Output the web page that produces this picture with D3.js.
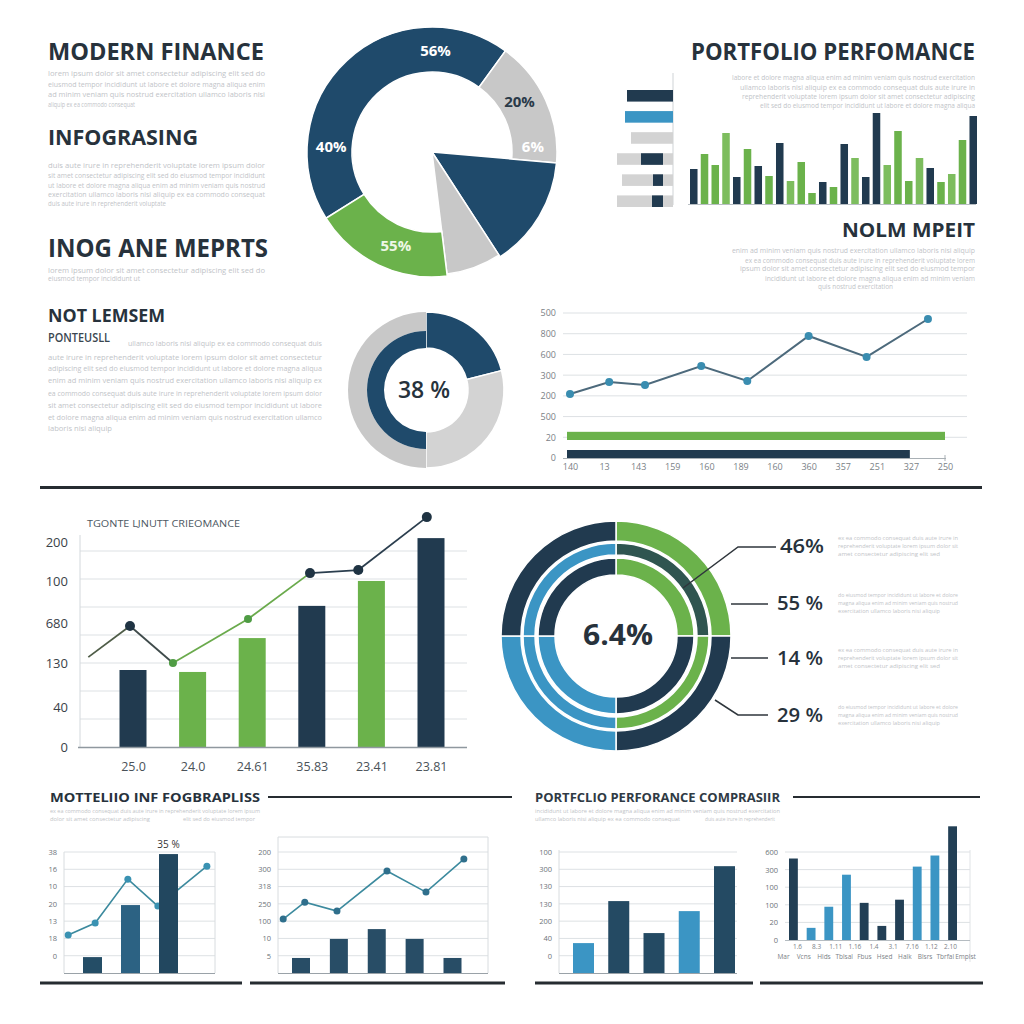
<!DOCTYPE html>
<html><head><meta charset="utf-8">
<script src="https://cdn.jsdelivr.net/npm/d3@7"></script>
<style>
html,body{margin:0;padding:0;background:#fff;}
svg{display:block;}
text{font-family:"Open Sans","Lato",sans-serif;}
</style></head><body>
<svg id="c" width="1024" height="1024"></svg>
<script>
// ---------------- DATA ----------------
const topDonutValues = [158, 59, 52, 26, 65];
const topDonutKinds = ["ring", "ring", "wedge", "wedge", "ring"];
const topDonutSeries = ["navy", "grey", "navy", "grey", "green"];
const topDonutLabels = ["56%", "20%", "6%", "40%", "55%"];
const topDonutLabelAngles = [2, 60, 87, 273, 201];

const hbarBg = [0, 0, 42, 56, 51, 56];
const hbarFgLo = [0, 0, 0, 10, 10, 10];
const hbarFgHi = [46, 48, 0, 32, 20, 21];
const hbarSeries = ["navy", "blue", "none", "navy", "navy", "navy"];

const vbarValues = [35, 50, 39, 71, 27, 55, 38, 28, 61, 23, 42, 11, 22, 17, 60, 46, 27, 91, 39, 73, 23, 46, 36, 22, 30, 64, 88];
const vbarSeries = ["n","g","g","g","n","g","n","g","n","g","g","g","n","g","n","g","n","n","g","g","g","g","n","g","g","g","n"];

const midDonutValues = [21, 29, 50];

const lineYLabels = ["0", "20", "500", "200", "300", "600", "800", "500"];
const lineXLabels = ["140", "13", "143", "159", "160", "189", "160", "360", "357", "251", "327", "250"];
const lineX = [0, 1.15, 2.2, 3.85, 5.2, 7, 8.7, 10.5];
const lineY = [3.09, 3.67, 3.53, 4.44, 3.72, 5.89, 4.88, 6.71];
const midHBars = [100, 90.7];
const midHBarSeries = ["green", "navy"];

const bigCats = ["25.0", "24.0", "24.61", "35.83", "23.41", "23.81"];
const bigBars = [2.75, 2.68, 3.89, 5.04, 5.93, 7.46];
const bigBarSeries = ["n", "g", "g", "n", "g", "n"];
const bigLineX = [-0.75, -0.05, 0.67, 1.93, 2.97, 3.78, 4.93];
const bigLineY = [3.21, 4.32, 3.0, 4.57, 6.21, 6.32, 8.21];
const bigLineSeries = ["none", "n", "g", "g", "n", "n", "n"];
const bigYTickVals = [0, 1.43, 3.0, 4.43, 5.9, 7.3];
const bigYTickLabels = ["0", "40", "130", "680", "100", "200"];

const ringQuarters = [25, 25, 25, 25];
const calloutLabels = ["46%", "55 %", "14 %", "29 %"];

const l1YLabels = ["0", "18", "13", "20", "10", "16", "38"];
const l1Bars = [0.92, 3.93, 6.88];
const l1LineX = [0.36, 1.07, 1.93, 2.72, 4.01];
const l1LineY = [2.2, 2.89, 5.43, 3.87, 6.18];

const l2YLabels = ["5", "10", "100", "250", "318", "300", "200"];
const l2Bars = [0.87, 1.97, 2.54, 1.97, 0.87];
const l2LineX = [-0.47, 0.1, 0.95, 2.27, 3.3, 4.3];
const l2LineY = [3.12, 4.1, 3.58, 5.9, 4.68, 6.59];

const r1YLabels = ["0", "40", "200", "130", "130", "300", "100"];
const r1Bars = [1.73, 4.16, 2.31, 3.58, 6.18];
const r1Series = ["b", "n", "n", "b", "n"];

const r2YLabels = ["0", "20", "100", "100", "300", "600"];
const r2Bars = [4.63, 0.69, 1.89, 3.71, 2.11, 0.8, 2.29, 4.17, 4.8, 6.46];
const r2Series = ["n", "b", "b", "b", "n", "n", "n", "b", "b", "n"];
const r2XLabels1 = ["1.6", "8.3", "1.11", "1.16", "1.4", "3.1", "7.16", "1.12", "2.10"];
const r2XLabels2 = ["Mar", "Vcns", "Hlds", "Tblsal", "Fbus", "Hsed", "Halk", "Blsrs", "Tbrfal", "Emplst"];

// ---------------- STYLE ----------------
const C = {
  navy: "#1f4a6b", navyD: "#213a4f", green: "#6bb24b", greenL: "#7dbd5e",
  grey: "#c8c8c8", greyL: "#d3d3d3", blue: "#3b95c4", text: "#27323c",
  lorem: "#bfc4c8", grid: "#dde1e4"
};
const svg = d3.select("#c");
svg.append("rect").attr("width", 1024).attr("height", 1024).attr("fill", "#fff");

const words = ["lorem","ipsum","dolor","sit","amet","consectetur","adipiscing","elit","sed","do","eiusmod","tempor","incididunt","ut","labore","et","dolore","magna","aliqua","enim","ad","minim","veniam","quis","nostrud","exercitation","ullamco","laboris","nisi","aliquip","ex","ea","commodo","consequat","duis","aute","irure","in","reprehenderit","voluptate"];
let wi = 0;
function lorem(x, y, w, size, anchor) {
  const n = Math.max(4, Math.round(w / (size * 0.48)));
  let s = "";
  while (s.length < n) { s += (s ? " " : "") + words[wi++ % words.length]; }
  svg.append("text").attr("x", x).attr("y", y).attr("font-size", size).attr("fill", C.lorem)
    .attr("text-anchor", anchor || "start").attr("textLength", w).attr("lengthAdjust", "spacingAndGlyphs").text(s);
}
function title(x, y, str, size, w, anchor, weight, color) {
  svg.append("text").attr("x", x).attr("y", y).attr("font-size", size).attr("font-weight", weight || 700)
    .attr("fill", color || C.text).attr("text-anchor", anchor || "start")
    .attr("textLength", w).attr("lengthAdjust", "spacingAndGlyphs").text(str);
}
function hline(x1, x2, y, w, col) {
  svg.append("line").attr("x1", x1).attr("x2", x2).attr("y1", y).attr("y2", y).attr("stroke", col || "#262c31").attr("stroke-width", w);
}
const rad = d => d * Math.PI / 180;

// ---------------- TOP LEFT TEXT ----------------
title(48, 60, "MODERN FINANCE", 23, 216);
[76, 87, 97].forEach(y => lorem(48, y, 217, 7.5)); lorem(48, 107, 87, 7.5);
title(48, 145, "INFOGRASING", 21, 150);
[168, 178, 188, 197].forEach(y => lorem(48, y, 217, 7.5)); lorem(48, 206, 118, 7.5);
title(48, 257, "INOG ANE MEPRTS", 25, 220);
lorem(48, 273, 217, 7.5); lorem(48, 281, 92, 7.5);

// ---------------- TOP DONUT ----------------
{
  const g = svg.append("g").attr("transform", "translate(432,152)");
  const pie = d3.pie().sort(null).startAngle(rad(-122)).endAngle(rad(238));
  const colorOf = s => s === "navy" ? C.navy : s === "grey" ? C.grey : C.green;
  pie(topDonutValues).forEach((a, i) => {
    const inner = topDonutKinds[i] === "ring" ? 80 : 0;
    const outer = topDonutSeries[i] === "grey" && topDonutKinds[i] === "wedge" ? 123 : 125;
    g.append("path").attr("d", d3.arc().innerRadius(inner).outerRadius(outer)(a))
      .attr("fill", colorOf(topDonutSeries[i])).attr("stroke", "#fff").attr("stroke-width", 1.5);
  });
  topDonutLabels.forEach((t, i) => {
    const a = rad(topDonutLabelAngles[i]), r = 101;
    g.append("text").attr("x", r * Math.sin(a)).attr("y", -r * Math.cos(a) + 5)
      .attr("text-anchor", "middle").attr("font-size", 15).attr("font-weight", 700)
      .attr("fill", t === "20%" ? "#2a3a48" : (t === "55%" ? "#eef7e6" : "#ffffff")).text(t);
  });
}

// ---------------- TOP RIGHT ----------------
title(975, 60, "PORTFOLIO PERFOMANCE", 23, 284, "end");
lorem(975, 80, 243, 7, "end"); lorem(975, 90, 235, 7, "end"); lorem(975, 99, 233, 7, "end"); lorem(975, 108, 215, 7, "end");
{
  const hx = d3.scaleLinear().domain([0, 60]).range([673, 613]);
  const hy = d3.scaleBand().domain(d3.range(6)).range([90, 207]).paddingInner(0.45);
  svg.append("line").attr("x1", 673).attr("x2", 673).attr("y1", 73).attr("y2", 205).attr("stroke", "#cfd3d6");
  hbarBg.forEach((v, i) => {
    if (v > 0) svg.append("rect").attr("x", hx(v)).attr("y", hy(i)).attr("width", hx(0) - hx(v)).attr("height", hy.bandwidth()).attr("fill", C.greyL);
    if (hbarFgHi[i] > 0) svg.append("rect").attr("x", hx(hbarFgHi[i])).attr("y", hy(i)).attr("width", hx(hbarFgLo[i]) - hx(hbarFgHi[i]))
      .attr("height", hy.bandwidth()).attr("fill", hbarSeries[i] === "blue" ? C.blue : C.navyD);
  });
  const bx = d3.scaleBand().domain(d3.range(vbarValues.length)).range([690, 977]).paddingInner(0.3);
  const by = d3.scaleLinear().domain([0, 100]).range([204, 104]);
  vbarValues.forEach((v, i) => {
    svg.append("rect").attr("x", bx(i)).attr("y", by(v)).attr("width", bx.bandwidth()).attr("height", by(0) - by(v))
      .attr("fill", vbarSeries[i] === "n" ? C.navyD : (i % 3 === 0 ? C.greenL : C.green));
  });
  hline(688, 976, 204.5, 1, "#b9bfc4");
}
title(975, 237, "NOLM MPEIT", 19, 133, "end");
lorem(975, 253, 243, 7, "end"); lorem(975, 263, 230, 7, "end"); lorem(975, 271, 235, 7, "end"); lorem(975, 281, 210, 7, "end"); lorem(818, 289, 75, 7);

// ---------------- MIDDLE LEFT TEXT ----------------
title(48, 322, "NOT LEMSEM", 17, 117);
title(48, 342, "PONTEUSLL", 12, 62, "start", 600, "#3a4650");
lorem(128, 346, 194, 7.5);
[360, 371, 383, 396, 408, 420].forEach(y => lorem(48, y, 274, 7.5));
lorem(48, 431, 64, 7.5);

// ---------------- MIDDLE DONUT ----------------
{
  const g = svg.append("g").attr("transform", "translate(426,390)");
  const arcs = d3.pie().sort(null)(midDonutValues);
  g.append("path").attr("d", d3.arc().innerRadius(42).outerRadius(78)(arcs[0])).attr("fill", C.navy).attr("stroke", "#fff").attr("stroke-width", 1.5);
  g.append("path").attr("d", d3.arc().innerRadius(42).outerRadius(78)(arcs[1])).attr("fill", C.greyL).attr("stroke", "#fff").attr("stroke-width", 1.5);
  g.append("path").attr("d", d3.arc().innerRadius(59).outerRadius(78)(arcs[2])).attr("fill", C.grey);
  g.append("path").attr("d", d3.arc().innerRadius(42).outerRadius(59)(arcs[2])).attr("fill", C.navy);
  g.append("text").attr("x", -2).attr("y", 8).attr("text-anchor", "middle").attr("font-size", 23).attr("font-weight", 600)
    .attr("fill", C.text).attr("textLength", 52).attr("lengthAdjust", "spacingAndGlyphs").text("38 %");
}

// ---------------- MIDDLE LINE CHART ----------------
{
  const x = d3.scaleLinear().domain([0, 11]).range([570, 945]);
  const y = d3.scaleLinear().domain([0, 7]).range([458, 313]);
  d3.range(1, 8).forEach(k => hline(563, 967, y(k), 1, C.grid));
  const ay = svg.append("g").attr("transform", "translate(561,0)")
    .call(d3.axisLeft(y).tickValues(d3.range(8)).tickFormat(i => lineYLabels[i]).tickSize(0).tickPadding(5));
  ay.select(".domain").remove();
  ay.selectAll("text").attr("font-size", 9).attr("fill", "#7a8186").attr("font-family", "Open Sans");
  const bx = d3.scaleLinear().domain([0, 100]).range([567, 945]);
  const bY = d3.scaleBand().domain(d3.range(2)).range([430, 460]).paddingInner(0.55).paddingOuter(0.1);
  midHBars.forEach((v, i) => svg.append("rect").attr("x", bx(0)).attr("y", bY(i)).attr("width", bx(v) - bx(0)).attr("height", bY.bandwidth())
    .attr("fill", midHBarSeries[i] === "green" ? C.green : C.navyD));
  hline(563, 946, 458.5, 1, "#a9b0b5");
  svg.append("line").attr("x1", 945).attr("x2", 945).attr("y1", 455).attr("y2", 461).attr("stroke", "#a9b0b5");
  const ax = svg.append("g").attr("transform", "translate(0,458)")
    .call(d3.axisBottom(x).tickValues(d3.range(12)).tickFormat(i => lineXLabels[i]).tickSize(0).tickPadding(6));
  ax.select(".domain").remove();
  ax.selectAll("text").attr("font-size", 9).attr("fill", "#7a8186").attr("font-family", "Open Sans");
  const pts = lineX.map((v, i) => [x(v), y(lineY[i])]);
  svg.append("path").attr("d", d3.line()(pts)).attr("fill", "none").attr("stroke", "#4d6a7c").attr("stroke-width", 2);
  pts.forEach(p => svg.append("circle").attr("cx", p[0]).attr("cy", p[1]).attr("r", 4).attr("fill", "#3a8db0"));
}

// ---------------- SEPARATOR ----------------
hline(40, 982, 487.5, 3);

// ---------------- BIG BAR CHART ----------------
{
  svg.append("text").attr("x", 87).attr("y", 527).attr("font-size", 9).attr("fill", "#4d5862")
    .attr("textLength", 153).attr("lengthAdjust", "spacingAndGlyphs").text("TGONTE LJNUTT CRIEOMANCE");
  const x = d3.scaleLinear().domain([0, 5]).range([133, 431]);
  const y = d3.scaleLinear().domain([0, 7]).range([747, 551]);
  d3.range(1, 8).forEach(k => hline(80, 467, y(k), 1, C.grid));
  svg.append("line").attr("x1", 80).attr("x2", 80).attr("y1", 535).attr("y2", 747).attr("stroke", "#d3d8dc");
  const ay = svg.append("g").attr("transform", "translate(72,0)")
    .call(d3.axisLeft(y).tickValues(bigYTickVals).tickFormat((d, i) => bigYTickLabels[i]).tickSize(0).tickPadding(4));
  ay.select(".domain").remove();
  ay.selectAll("text").attr("font-size", 13).attr("fill", "#3b4248").attr("font-family", "Open Sans");
  bigBars.forEach((v, i) => svg.append("rect").attr("x", x(i) - 13.5).attr("y", y(v)).attr("width", 27).attr("height", y(0) - y(v))
    .attr("fill", bigBarSeries[i] === "n" ? C.navyD : C.green));
  hline(78, 467, 747.5, 1.5, "#8f989f");
  const ax = svg.append("g").attr("transform", "translate(0,747)")
    .call(d3.axisBottom(x).tickValues(d3.range(6)).tickFormat(i => bigCats[i]).tickSize(0).tickPadding(15));
  ax.select(".domain").remove();
  ax.selectAll("text").attr("font-size", 12.5).attr("fill", "#4a5258").attr("font-family", "Open Sans");
  const pts = bigLineX.map((v, i) => [x(v), y(bigLineY[i])]);
  const segCol = ["#4f5d48", "#3f4b4b", "#6aaa4c", "#6aaa4c", "#2b3e4e", "#2b3e4e"];
  for (let i = 0; i < pts.length - 1; i++) {
    svg.append("line").attr("x1", pts[i][0]).attr("y1", pts[i][1]).attr("x2", pts[i + 1][0]).attr("y2", pts[i + 1][1])
      .attr("stroke", segCol[i]).attr("stroke-width", 1.8);
  }
  pts.forEach((p, i) => {
    if (bigLineSeries[i] === "none") return;
    svg.append("circle").attr("cx", p[0]).attr("cy", p[1]).attr("r", bigLineSeries[i] === "g" ? 4 : 5)
      .attr("fill", bigLineSeries[i] === "g" ? "#4f9c44" : "#1f3343");
  });
}

// ---------------- CONCENTRIC DONUT ----------------
{
  const g = svg.append("g").attr("transform", "translate(616,636)");
  const arcs = d3.pie().sort(null)(ringQuarters);
  const rings = [
    { r0: 95, r1: 115, cols: [C.green, C.navyD, C.blue, C.navyD] },
    { r0: 81, r1: 93, cols: ["#2f5550", C.green, C.blue, C.blue] },
    { r0: 61, r1: 78, cols: [C.green, C.navyD, C.blue, C.navyD] }
  ];
  rings.forEach(rg => arcs.forEach((a, i) => g.append("path").attr("d", d3.arc().innerRadius(rg.r0).outerRadius(rg.r1)(a))
    .attr("fill", rg.cols[i]).attr("stroke", "#fff").attr("stroke-width", 1.5)));
  g.append("text").attr("x", 2).attr("y", 9).attr("text-anchor", "middle").attr("font-size", 29).attr("font-weight", 700)
    .attr("fill", C.text).attr("textLength", 70).attr("lengthAdjust", "spacingAndGlyphs").text("6.4%");
  const leaders = [
    [[683, 588], [738, 547], [776, 547]],
    [[731, 604], [768, 604]],
    [[731, 658], [768, 658]],
    [[715, 700], [738, 715], [768, 715]]
  ];
  leaders.forEach(l => svg.append("path").attr("d", d3.line()(l)).attr("fill", "none").attr("stroke", "#2f363c").attr("stroke-width", 1.5));
  const ly = [553, 610, 665, 722];
  calloutLabels.forEach((t, i) => {
    svg.append("text").attr("x", i === 0 ? 780 : 777).attr("y", ly[i]).attr("font-size", 20).attr("font-weight", 600)
      .attr("fill", C.text).attr("textLength", i === 0 ? 44 : 46).attr("lengthAdjust", "spacingAndGlyphs").text(t);
    const b = [540, 597, 652, 709][i];
    lorem(838, b, 120, 6); lorem(838, b + 8, 120, 6); lorem(838, b + 16, 102, 6);
  });
}

// ---------------- BOTTOM TITLES ----------------
title(50, 802, "MOTTELIIO INF FOGBRAPLISS", 13, 210);
hline(268, 512, 797, 2);
lorem(50, 813, 210, 6); lorem(50, 821, 100, 6); lorem(183, 821, 72, 6);
title(535, 802, "PORTFCLIO PERFORANCE COMPRASIIR", 13, 245, "start", 700, "#2f3a44");
hline(793, 980, 797, 2);
lorem(535, 813, 245, 6); lorem(535, 821, 145, 6); lorem(705, 821, 70, 6);
hline(40, 242, 983, 3); hline(250, 505, 983, 3); hline(535, 753, 983, 3); hline(760, 983, 983, 3);

function yAxisSmall(x0, y, labels, ks) {
  const a = svg.append("g").attr("transform", `translate(${x0},0)`)
    .call(d3.axisLeft(y).tickValues(ks).tickFormat((d, i) => labels[i]).tickSize(0).tickPadding(5));
  a.select(".domain").remove();
  a.selectAll("text").attr("font-size", 7.5).attr("fill", "#6c7378").attr("font-family", "Open Sans");
}

// ---------------- L1 ----------------
{
  const x = d3.scaleLinear().domain([1, 3]).range([92.5, 168.5]);
  const y = d3.scaleLinear().domain([0, 7]).range([973, 852]);
  d3.range(1, 8).forEach(k => hline(64, 215, y(k), 1, C.grid));
  [64, 215].forEach(xx => svg.append("line").attr("x1", xx).attr("x2", xx).attr("y1", 852).attr("y2", 973).attr("stroke", "#d8dcdf"));
  yAxisSmall(62, y, l1YLabels, d3.range(1, 8));
  const pts = l1LineX.map((v, i) => [x(v), y(l1LineY[i])]);
  svg.append("path").attr("d", d3.line()(pts)).attr("fill", "none").attr("stroke", "#3c8a9e").attr("stroke-width", 1.6);
  pts.forEach(p => svg.append("circle").attr("cx", p[0]).attr("cy", p[1]).attr("r", 3.5).attr("fill", "#3a92b2"));
  const bc = ["#244d66", "#2c6283", "#22475f"];
  l1Bars.forEach((v, i) => svg.append("rect").attr("x", x(i + 1) - 9.5).attr("y", y(v)).attr("width", 19).attr("height", y(0) - y(v)).attr("fill", bc[i]));
  hline(64, 215, 973.5, 1, "#9aa2a8");
  svg.append("text").attr("x", x(3)).attr("y", 848).attr("text-anchor", "middle").attr("font-size", 10).attr("fill", "#333").text("35 %");
}

// ---------------- L2 ----------------
{
  const x = d3.scaleLinear().domain([0, 4]).range([301, 452.5]);
  const y = d3.scaleLinear().domain([0, 7]).range([973, 852]);
  d3.range(1, 8).forEach(k => hline(278, 488, y(k), 1, C.grid));
  hline(278, 488, 837, 1, "#d8dcdf");
  [278, 488].forEach(xx => svg.append("line").attr("x1", xx).attr("x2", xx).attr("y1", 837).attr("y2", 973).attr("stroke", "#d8dcdf"));
  yAxisSmall(276, y, l2YLabels, d3.range(1, 8));
  l2Bars.forEach((v, i) => svg.append("rect").attr("x", x(i) - 9).attr("y", y(v)).attr("width", 18).attr("height", y(0) - y(v)).attr("fill", "#284d66"));
  hline(278, 488, 973.5, 1, "#9aa2a8");
  const pts = l2LineX.map((v, i) => [x(v), y(l2LineY[i])]);
  svg.append("path").attr("d", d3.line()(pts)).attr("fill", "none").attr("stroke", "#3c8a9e").attr("stroke-width", 1.6);
  pts.forEach(p => svg.append("circle").attr("cx", p[0]).attr("cy", p[1]).attr("r", 3.5).attr("fill", "#2f6f8c"));
}

// ---------------- R1 ----------------
{
  const x = d3.scaleLinear().domain([0, 4]).range([583.5, 724.5]);
  const y = d3.scaleLinear().domain([0, 7]).range([973, 852]);
  d3.range(1, 8).forEach(k => hline(559, 737, y(k), 1, C.grid));
  svg.append("line").attr("x1", 559).attr("x2", 559).attr("y1", 850).attr("y2", 973).attr("stroke", "#d8dcdf");
  yAxisSmall(557, y, r1YLabels, d3.range(1, 8));
  r1Bars.forEach((v, i) => svg.append("rect").attr("x", x(i) - 10.5).attr("y", y(v)).attr("width", 21).attr("height", y(0) - y(v))
    .attr("fill", r1Series[i] === "b" ? C.blue : "#244a63"));
  hline(559, 737, 973.5, 1, "#9aa2a8");
}

// ---------------- R2 ----------------
{
  const x = d3.scaleBand().domain(d3.range(10)).range([789, 957]).paddingInner(0.5);
  const y = d3.scaleLinear().domain([0, 5]).range([940, 852]);
  d3.range(1, 6).forEach(k => hline(785, 970, y(k), 1, C.grid));
  svg.append("line").attr("x1", 970).attr("x2", 970).attr("y1", 850).attr("y2", 962).attr("stroke", "#e0e3e6");
  yAxisSmall(783, y, r2YLabels, d3.range(0, 6));
  r2Bars.forEach((v, i) => svg.append("rect").attr("x", x(i)).attr("y", y(v)).attr("width", x.bandwidth()).attr("height", y(0) - y(v))
    .attr("fill", r2Series[i] === "b" ? C.blue : "#223f55"));
  hline(785, 970, 940.5, 1, "#b5bcc1");
  const p1 = d3.scalePoint().domain(d3.range(9)).range([797, 950]);
  const p2 = d3.scalePoint().domain(d3.range(10)).range([783, 965]);
  const a1 = svg.append("g").attr("transform", "translate(0,940)").call(d3.axisBottom(p1).tickFormat(i => r2XLabels1[i]).tickSize(0).tickPadding(4));
  const a2 = svg.append("g").attr("transform", "translate(0,949)").call(d3.axisBottom(p2).tickFormat(i => r2XLabels2[i]).tickSize(0).tickPadding(5));
  [a1, a2].forEach(a => { a.select(".domain").remove(); a.selectAll("text").attr("font-size", 6.5).attr("fill", "#7a8186").attr("font-family", "Open Sans"); });
}
</script></body></html>
